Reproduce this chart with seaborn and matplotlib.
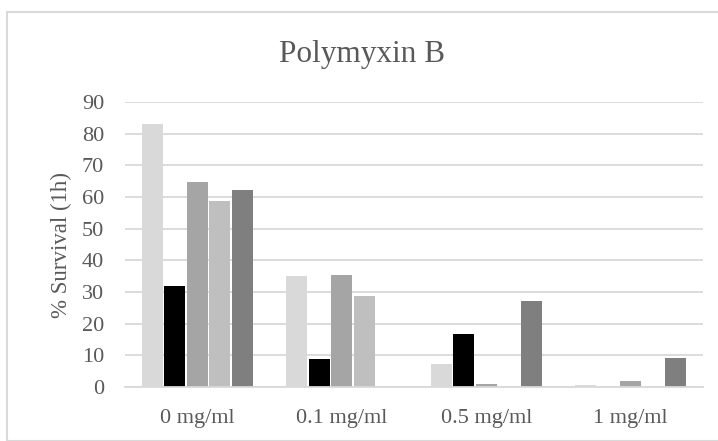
import matplotlib
matplotlib.use("Agg")
import matplotlib.pyplot as plt
import seaborn as sns
import pandas as pd
from matplotlib.patches import Rectangle

categories = ["0 mg/ml", "0.1 mg/ml", "0.5 mg/ml", "1 mg/ml"]
series_names = ["Series 1", "Series 2", "Series 3", "Series 4", "Series 5"]
s1 = [83.0, 35.0, 7.3, 0.7]
s2 = [32.0, 9.0, 16.8, 0.0]
s3 = [64.7, 35.5, 1.0, 2.0]
s4 = [58.7, 28.8, 0.0, 0.0]
s5 = [62.3, 0.0, 27.2, 9.3]
colors = ["#D9D9D9", "#000000", "#A5A5A5", "#BFBFBF", "#7F7F7F"]

rows = []
for name, vals in zip(series_names, [s1, s2, s3, s4, s5]):
    for c, v in zip(categories, vals):
        rows.append({"Concentration": c, "Series": name, "Survival": v})
df = pd.DataFrame(rows)

sns.set_theme(style="white")
plt.rcParams["font.family"] = ["Liberation Serif", "DejaVu Serif"]

fig = plt.figure(figsize=(7.18, 4.41), dpi=100)
ax = fig.add_axes([125/718, (441-387)/441, (703-125)/718, (387-102)/441])

sns.barplot(data=df, x="Concentration", y="Survival", hue="Series",
            order=categories, hue_order=series_names, palette=colors,
            width=0.78, gap=0.08, legend=False, ax=ax, saturation=1,
            edgecolor="none", linewidth=0)

ax.set_ylim(0, 90)
ax.set_yticks(range(0, 91, 10))
ax.yaxis.grid(True, color="#D9D9D9", linewidth=1.3)
ax.set_axisbelow(True)
for s in ["top", "right", "left"]:
    ax.spines[s].set_visible(False)
ax.spines["bottom"].set_color("#D9D9D9")
ax.spines["bottom"].set_linewidth(1.3)
ax.tick_params(axis="both", length=0, labelsize=16, colors="#595959")
ax.tick_params(axis="y", pad=15)
ax.tick_params(axis="x", pad=16)
ax.set_xlabel("")
ax.set_ylabel("% Survival (1h)", fontsize=16.5, color="#595959", labelpad=7)

fig.text(362/718, (441-62)/441, "Polymyxin B", ha="center", va="baseline",
         fontsize=22.5, color="#595959")

fig.patches.append(Rectangle((7/718, 0), 1.0, (441-12)/441, transform=fig.transFigure,
                             fill=False, edgecolor="#D9D9D9", linewidth=1.5))

fig.savefig("out.png", dpi=100)
